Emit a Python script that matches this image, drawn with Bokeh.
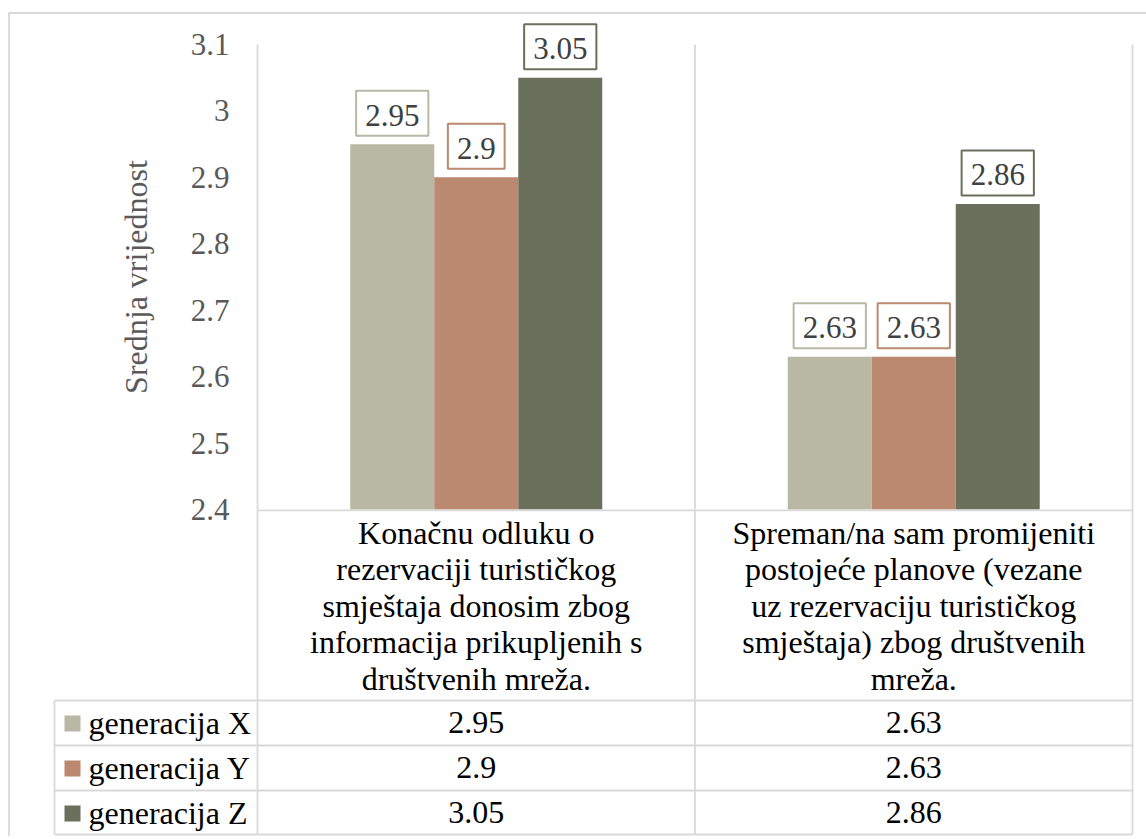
from bokeh.plotting import figure
from bokeh.models import Range1d, LinearAxis, FixedTicker
from bokeh.embed import file_html
from bokeh.resources import INLINE
from bokeh.core.properties import value

# ---------------- data ----------------
categories = [
    "Konačnu odluku o\nrezervaciji turističkog\nsmještaja donosim zbog\ninformacija prikupljenih s\ndruštvenih mreža.",
    "Spreman/na sam promijeniti\npostojeće planove (vezane\nuz rezervaciju turističkog\nsmještaja) zbog društvenih\nmreža.",
]
series_names = ["generacija X", "generacija Y", "generacija Z"]
gen_x = [2.95, 2.63]
gen_y = [2.90, 2.63]
gen_z = [3.05, 2.86]
series_values = [gen_x, gen_y, gen_z]
colors = ["#B8B8A5", "#BA8970", "#6B705C"]
y_ticks = [2.4, 2.5, 2.6, 2.7, 2.8, 2.9, 3.0, 3.1]
y_tick_labels = ["2.4", "2.5", "2.6", "2.7", "2.8", "2.9", "3", "3.1"]
y_title = "Srednja vrijednost"

# ---------------- layout constants (pixels) ----------------
FONT = "'Liberation Serif'"
GRID = "#d9d9d9"
LW = 1.8
W, H = 1146, 836
PX0 = 257            # x pixel of plot-area left edge
PXU = 437.5          # pixels per category
Y_TOP, Y_BOT = 44, 509
ncat = len(categories)
ymin, ymax = y_ticks[0], y_ticks[-1]
PYU = (Y_BOT - Y_TOP) / (ymax - ymin)
bw = 84 / PXU


def px(xp):
    return (xp - PX0) / PXU


p = figure(width=W, height=H,
           x_range=Range1d(px(0), px(W)), y_range=Range1d(H, 0),
           output_backend="svg", toolbar_location=None,
           x_axis_location=None, y_axis_location=None,
           min_border=0, min_border_left=0, min_border_right=0,
           min_border_top=0, min_border_bottom=0)
p.extra_y_ranges = {"val": Range1d(ymin - (H - Y_BOT) / PYU, ymax + Y_TOP / PYU)}
p.outline_line_color = None
p.xgrid.visible = False
p.ygrid.visible = False

# ---- value axis ----
yax = LinearAxis(y_range_name="val", fixed_location=0, bounds=(ymin, ymax),
                 ticker=FixedTicker(ticks=y_ticks),
                 major_label_overrides={t: l for t, l in zip(y_ticks, y_tick_labels)},
                 axis_label=y_title)
yax.axis_line_color = GRID
yax.axis_line_width = LW
yax.major_tick_line_color = None
yax.minor_tick_line_color = None
yax.major_tick_out = 0
yax.major_tick_in = 0
yax.major_label_standoff = 28
yax.major_label_text_font = FONT
yax.major_label_text_font_size = "31px"
yax.major_label_text_color = "#595959"
yax.axis_label_text_font = FONT
yax.axis_label_text_font_size = "32px"
yax.axis_label_text_font_style = "normal"
yax.axis_label_text_color = "#595959"
yax.axis_label_standoff = 34
p.add_layout(yax, "left")

# ---- outer chart border (top/left) ----
p.segment(x0=[px(8.5)], y0=[12], x1=[px(8.5)], y1=[H], line_color=GRID, line_width=LW)
p.segment(x0=[px(8)], y0=[12.5], x1=[px(W)], y1=[12.5], line_color=GRID, line_width=LW)

# ---- category separators in the plot area ----
seps = list(range(1, ncat + 1))
p.segment(x0=seps, y0=[ymin] * ncat, x1=seps, y1=[ymax] * ncat,
          line_color=GRID, line_width=LW, y_range_name="val")

# ---- bars and data labels ----
for j, vals in enumerate(series_values):
    xs = [i + 0.5 + (j - 1) * bw for i in range(ncat)]
    labels = [f"{v:g}" for v in vals]
    p.vbar(x=xs, bottom=ymin, top=vals, width=bw, fill_color=colors[j], line_color=None,
           y_range_name="val")
    widths = [18 + sum(7.75 if ch == "." else 15.5 for ch in t) for t in labels]
    p.rect(x=xs, y=[v + 31 / PYU for v in vals], width=widths, height=45,
           width_units="screen", height_units="screen",
           fill_color="white", line_color=colors[j], line_width=2, y_range_name="val")
    p.text(x=xs, y=vals, text=labels, y_range_name="val",
           text_align="center", text_baseline="alphabetic", y_offset=-29,
           text_font=value(FONT), text_font_size="31px", text_color="#404040")

# ---- data table ----
leg_left = px(54)
cat_bottom = 700
row_h = 45
row_lines = [cat_bottom + k * row_h for k in range(len(series_names) + 1)]
table_bottom = row_lines[-1] - 1

p.segment(x0=[0], y0=[Y_BOT + 0.9], x1=[ncat], y1=[Y_BOT + 0.9], line_color=GRID, line_width=LW)
p.segment(x0=[leg_left] * len(row_lines), y0=[min(r, table_bottom) for r in row_lines],
          x1=[ncat] * len(row_lines), y1=[min(r, table_bottom) for r in row_lines],
          line_color=GRID, line_width=LW)
vx = list(range(0, ncat + 1))
p.segment(x0=vx, y0=[Y_BOT] * len(vx), x1=vx, y1=[table_bottom] * len(vx),
          line_color=GRID, line_width=LW)
p.segment(x0=[leg_left], y0=[cat_bottom], x1=[leg_left], y1=[table_bottom],
          line_color=GRID, line_width=LW)

lx, ly, lt = [], [], []
for i, c in enumerate(categories):
    for k, line in enumerate(c.split("\n")):
        lx.append(i + 0.5)
        ly.append(532 + k * 36.5)
        lt.append(line)
p.text(x=lx, y=ly, text=lt, text_align="center", text_baseline="alphabetic",
       text_font=value(FONT), text_font_size="32px", text_color="#000000")

for j, (name, vals) in enumerate(zip(series_names, series_values)):
    rt = row_lines[j]
    p.rect(x=[px(72)], y=[rt + 23], width=16, height=16,
           width_units="screen", height_units="screen", fill_color=colors[j], line_color=None)
    p.text(x=[px(88)], y=[rt + 22], text=[name], text_align="left",
           text_baseline="alphabetic", text_font=value(FONT), text_font_size="32px",
           text_color="#000000")
    p.text(x=[i + 0.5 for i in range(ncat)], y=[rt + 22] * ncat,
           text=[f"{v:g}" for v in vals], text_align="center", text_baseline="alphabetic",
           text_font=value(FONT), text_font_size="32px", text_color="#000000")

open("out.html", "w").write(file_html(p, INLINE))
